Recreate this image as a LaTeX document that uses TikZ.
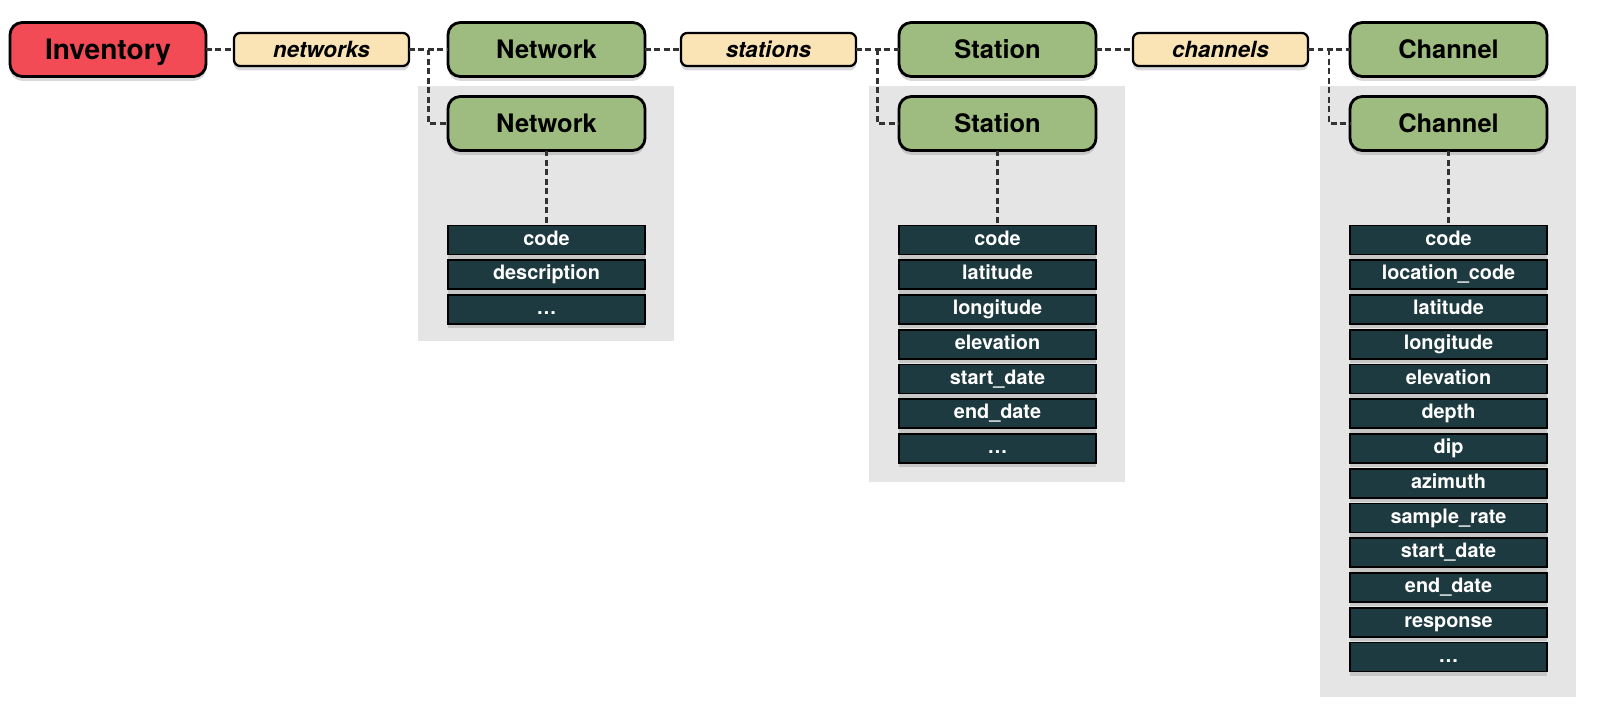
\documentclass[tikz,border=0pt]{standalone}
\usepackage{fontspec}
\setmainfont{TeX Gyre Heros}
\usetikzlibrary{positioning,calc,shadows,backgrounds}
\definecolor{invred}{HTML}{F24B56}
\definecolor{objgreen}{HTML}{9EBC7F}
\definecolor{reltan}{HTML}{FAE4B5}
\definecolor{fieldteal}{HTML}{1C3A3F}
\definecolor{panelgray}{HTML}{E5E5E5}
\begin{document}
\begin{tikzpicture}[
  softshadow/.style={drop shadow={shadow xshift=0pt, shadow yshift=-2.5pt, opacity=0.3}},
  box/.style={draw=black, line width=1.6pt, rounded corners=7pt, minimum width=3.94cm, minimum height=1.08cm,
    inner sep=0pt, outer sep=0pt, text height=10.5pt, text depth=0pt, font=\bfseries\fontsize{14.5}{17}\selectfont, softshadow},
  root/.style={box, fill=invred, minimum width=3.92cm, text height=11.6pt, font=\bfseries\fontsize{16}{19}\selectfont},
  obj/.style={box, fill=objgreen},
  rel/.style={draw=black, line width=1.3pt, rounded corners=3.5pt, fill=reltan, minimum width=3.5cm, minimum height=0.66cm,
    inner sep=0pt, outer sep=0pt, text height=9pt, text depth=0pt, font=\bfseries\itshape\fontsize{12.7}{15}\selectfont, softshadow},
  field/.style={draw=black, line width=1.1pt, fill=fieldteal, text=white, minimum width=3.94cm, minimum height=0.58cm,
    inner sep=0pt, outer sep=0pt, text height=8.2pt, text depth=2.4pt, font=\bfseries\fontsize{11.3}{13}\selectfont, softshadow},
  link/.style={draw=black!80, line width=1.6pt, dash pattern=on 3.2pt off 2.2pt},
  panel/.style={fill=panelgray}
]
\useasboundingbox (0,0) rectangle (32.26,-14.26);

% top row
\node[root] (inv) at (2.16,-0.99) {Inventory};
\node[rel, right=0.56cm of inv] (lnet) {networks};
\node[obj, right=0.78cm of lnet] (net1) {Network};
\node[rel, right=0.72cm of net1] (lsta) {stations};
\node[obj, right=0.86cm of lsta] (sta1) {Station};
\node[rel, right=0.74cm of sta1] (lcha) {channels};
\node[obj, right=0.84cm of lcha] (cha1) {Channel};

% second objects
\node[obj, below=0.4cm of net1] (net2) {Network};
\node[obj, below=0.4cm of sta1] (sta2) {Station};
\node[obj, below=0.4cm of cha1] (cha2) {Channel};

% fields
\node[field, below=1.5cm of net2] (nf1) {code};
\foreach \t [count=\i from 2, remember=\i as \j (initially 1)] in {description,\dots}
  \node[field, below=0.115cm of nf\j] (nf\i) {\t};

\node[field, below=1.5cm of sta2] (sf1) {code};
\foreach \t [count=\i from 2, remember=\i as \j (initially 1)] in {latitude,longitude,elevation,start\_date,end\_date,\dots}
  \node[field, below=0.115cm of sf\j] (sf\i) {\t};

\node[field, below=1.5cm of cha2] (cf1) {code};
\foreach \t [count=\i from 2, remember=\i as \j (initially 1)] in {location\_code,latitude,longitude,elevation,depth,dip,azimuth,sample\_rate,start\_date,end\_date,response,\dots}
  \node[field, below=0.115cm of cf\j] (cf\i) {\t};

% panels
\begin{scope}[on background layer]
\fill[panel] ($(net2.north west)+(-0.6,0.22)$) rectangle ($(nf3.south east)+(0.58,-0.34)$);
\fill[panel] ($(sta2.north west)+(-0.6,0.22)$) rectangle ($(sf7.south east)+(0.58,-0.38)$);
\fill[panel] ($(cha2.north west)+(-0.6,0.22)$) rectangle ($(cf13.south east)+(0.58,-0.5)$);
\end{scope}

% links
\coordinate (jnet) at ($(lnet.east)!0.5!(net1.west)$);
\coordinate (jsta) at ($(lsta.east)!0.5!(sta1.west)$);
\coordinate (jcha) at ($(lcha.east)!0.5!(cha1.west)$);
\draw[link] (inv) -- (lnet);
\draw[link] (lnet) -- (net1);
\draw[link] (jnet) |- (net2);
\draw[link] (net1) -- (lsta);
\draw[link] (lsta) -- (sta1);
\draw[link] (jsta) |- (sta2);
\draw[link] (sta1) -- (lcha);
\draw[link] (lcha) -- (cha1);
\draw[link] (jcha) |- (cha2);
\draw[link] (net2) -- (nf1);
\draw[link] (sta2) -- (sf1);
\draw[link] (cha2) -- (cf1);
\end{tikzpicture}
\end{document}
